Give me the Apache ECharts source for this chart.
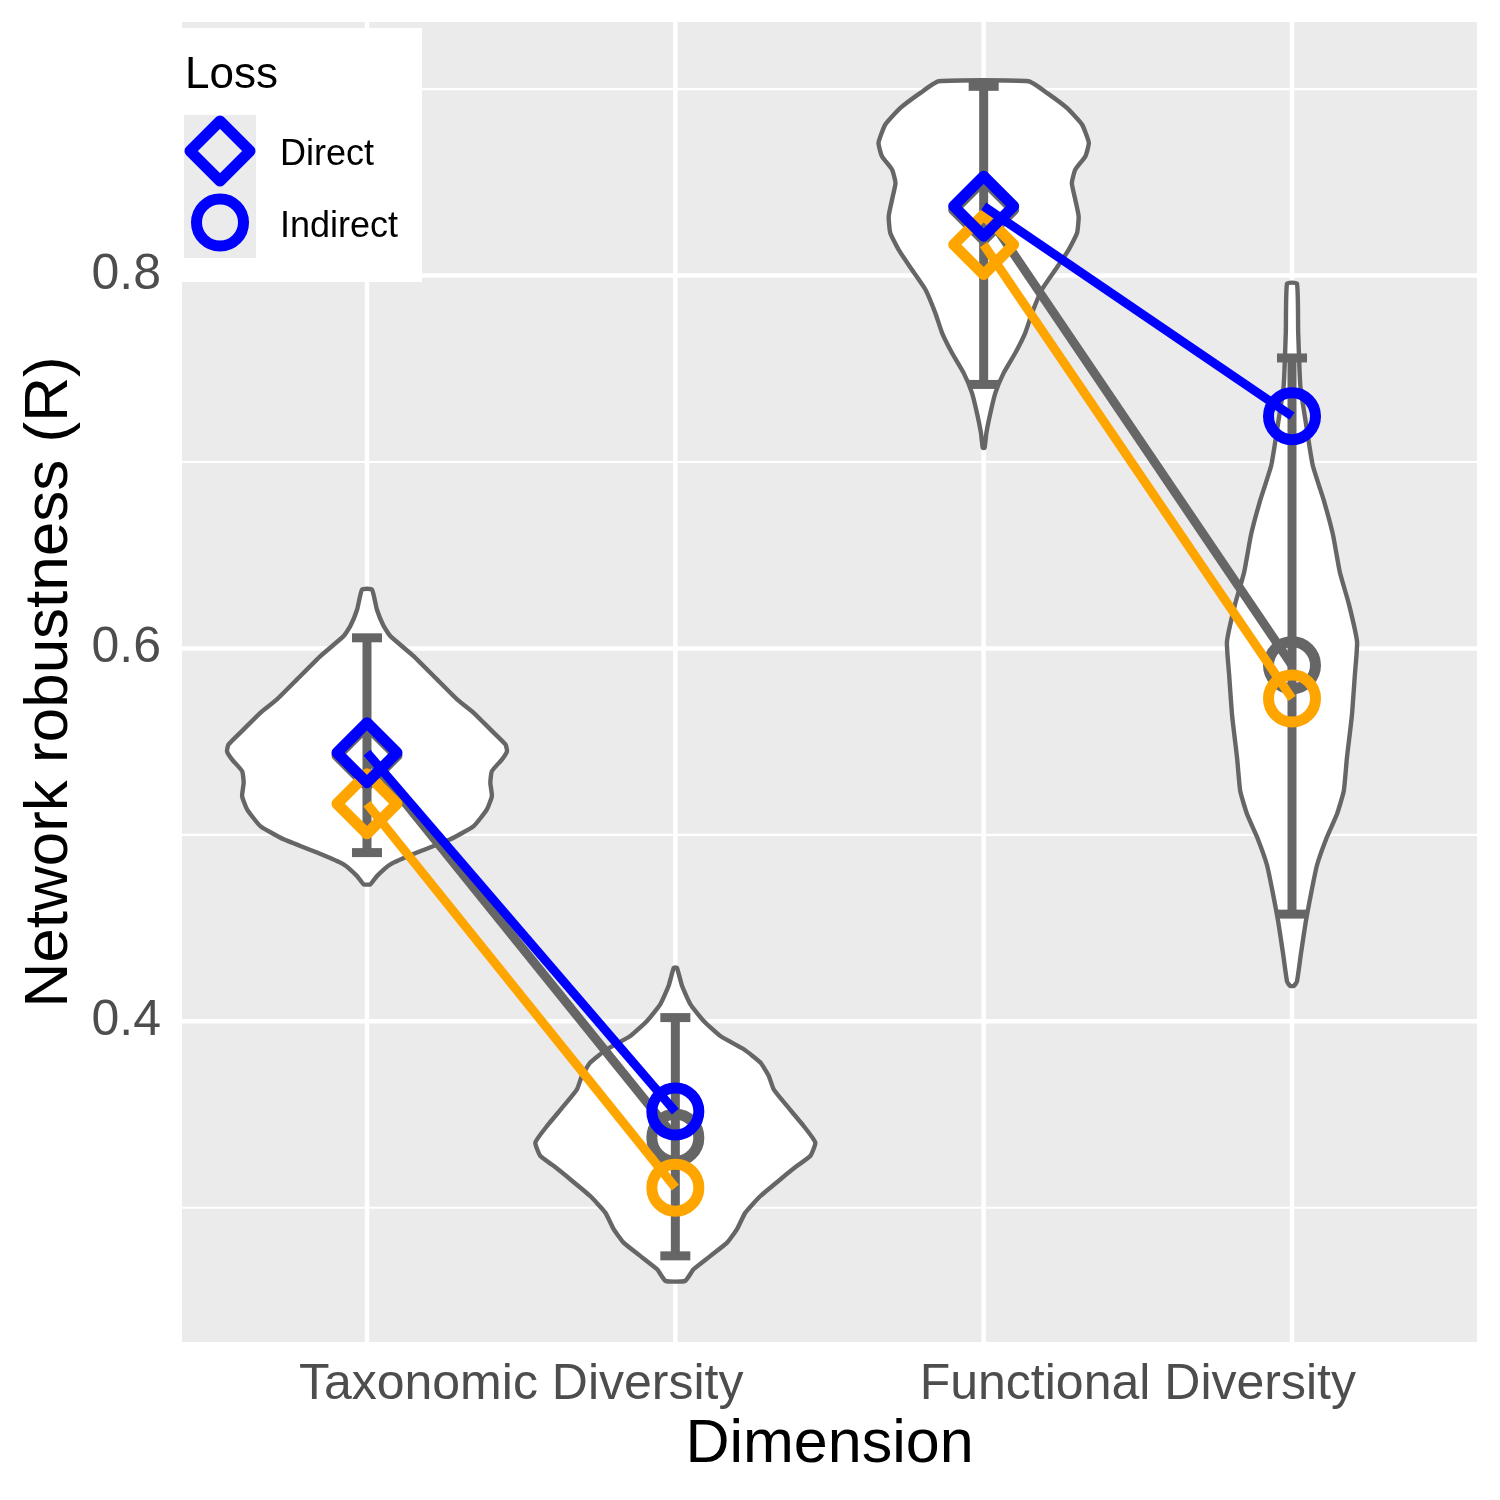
<!DOCTYPE html>
<html>
<head>
<meta charset="utf-8">
<title>Network robustness</title>
<script src="https://cdn.jsdelivr.net/npm/echarts@6.0.0/dist/echarts.min.js"></script>
<style>
  html, body { margin: 0; padding: 0; background: #fff; }
  #chart { width: 1500px; height: 1500px; }
</style>
</head>
<body>
<div id="chart"></div>
<script>
// x positions: 1 = Taxonomic/Direct, 2 = Taxonomic/Indirect, 3 = Functional/Direct, 4 = Functional/Indirect
var dimensionLabels = ['Taxonomic Diversity', 'Functional Diversity'];
var dimensionLabelPos = [1.5, 3.5];
var groupPos = [1, 2, 3, 4];
var groupLoss = ['Direct', 'Indirect', 'Direct', 'Indirect'];
var yBreaks = [0.4, 0.6, 0.8];
var yMinorBreaks = [0.3, 0.5, 0.7, 0.9];
var xBreaks = [1, 2, 3, 4];

// means per group
var grayMean = [0.5426, 0.3376, 0.8354, 0.5910];
var orangeMean = [0.5167, 0.3108, 0.8166, 0.5731];
var blueMean = [0.5441, 0.3516, 0.8372, 0.7246];

// gray error bars
var errLow = [0.4905, 0.2742, 0.7416, 0.4575];
var errHigh = [0.6057, 0.4020, 0.9015, 0.7558];

// violin outlines: [robustness, half width in x units], top to bottom
var violinTaxDirect = [
  [0.6316, 0.016], [0.6209, 0.032], [0.6120, 0.054], [0.6066, 0.076], [0.5959, 0.151],
  [0.5834, 0.227], [0.5727, 0.292], [0.5655, 0.346], [0.5566, 0.400], [0.5485, 0.449],
  [0.5449, 0.454], [0.5405, 0.438], [0.5342, 0.405], [0.5280, 0.400], [0.5208, 0.405],
  [0.5137, 0.389], [0.5047, 0.346], [0.4976, 0.270], [0.4905, 0.162], [0.4842, 0.076],
  [0.4779, 0.032], [0.4735, 0.011]
];
var violinTaxIndirect = [
  [0.4288, 0.005], [0.4189, 0.022], [0.4091, 0.049], [0.4002, 0.092], [0.3921, 0.146],
  [0.3850, 0.222], [0.3779, 0.276], [0.3707, 0.303], [0.3635, 0.319], [0.3546, 0.362],
  [0.3439, 0.416], [0.3350, 0.454], [0.3278, 0.438], [0.3225, 0.395], [0.3153, 0.341],
  [0.3063, 0.276], [0.2974, 0.227], [0.2885, 0.200], [0.2813, 0.168], [0.2742, 0.114],
  [0.2670, 0.059], [0.2608, 0.032]
];
var violinFuncDirect = [
  [0.9042, 0.146], [0.8980, 0.205], [0.8899, 0.270], [0.8810, 0.319], [0.8712, 0.341],
  [0.8640, 0.330], [0.8568, 0.297], [0.8497, 0.286], [0.8408, 0.297], [0.8318, 0.308],
  [0.8229, 0.303], [0.8139, 0.276], [0.8032, 0.233], [0.7925, 0.189], [0.7800, 0.157],
  [0.7693, 0.135], [0.7586, 0.103], [0.7478, 0.065], [0.7371, 0.038], [0.7264, 0.022],
  [0.7157, 0.009], [0.7076, 0.003]
];
var violinFuncIndirect = [
  [0.7957, 0.016], [0.7700, 0.020], [0.7408, 0.027], [0.7209, 0.045], [0.6984, 0.067],
  [0.6784, 0.105], [0.6609, 0.133], [0.6410, 0.155], [0.6235, 0.185], [0.6035, 0.211],
  [0.5861, 0.204], [0.5636, 0.194], [0.5411, 0.178], [0.5236, 0.168], [0.5112, 0.146],
  [0.4987, 0.113], [0.4837, 0.081], [0.4687, 0.062], [0.4537, 0.045], [0.4363, 0.029],
  [0.4213, 0.016], [0.4190, 0.006]
];
var violins = [violinTaxDirect, violinTaxIndirect, violinFuncDirect, violinFuncIndirect];

var FONT = 'Liberation Sans';
var DARK = '#666666';

var chart = echarts.init(document.getElementById('chart'), null, { renderer: 'canvas' });

function lossSymbol(i) {
  return groupLoss[i] === 'Direct' ? 'diamond' : 'circle';
}
function lossSize(i) {
  return groupLoss[i] === 'Direct' ? 60 : 47;
}

// one line series per dimension for a colour
function meanSeries(values, color, z) {
  var out = [];
  [[0, 1], [2, 3]].forEach(function (pair) {
    out.push({
      type: 'line',
      z: z,
      silent: true,
      clip: false,
      showSymbol: true,
      showAllSymbol: true,
      data: pair.map(function (i) {
        return { value: [groupPos[i], values[i]], symbol: lossSymbol(i), symbolSize: lossSize(i) };
      }),
      lineStyle: { color: color, width: 9, cap: 'butt' },
      itemStyle: { color: 'rgba(0,0,0,0)', borderColor: color, borderWidth: 11, borderJoin: 'round' },
      emphasis: { disabled: true }
    });
  });
  return out;
}

var gridData = []
  .concat(yMinorBreaks.map(function (v) { return [0, v]; }))
  .concat(yBreaks.map(function (v) { return [1, v]; }))
  .concat(xBreaks.map(function (v) { return [2, v]; }));

var series = [
  {
    // panel grid lines
    type: 'custom',
    z: 1,
    silent: true,
    data: gridData,
    renderItem: function (params, api) {
      var cs = params.coordSys;
      var kind = api.value(0), v = api.value(1);
      if (kind < 2) {
        var y = api.coord([1, v])[1];
        return { type: 'line', shape: { x1: cs.x, y1: y, x2: cs.x + cs.width, y2: y },
          style: { stroke: '#ffffff', lineWidth: kind === 0 ? 2.2 : 4.4 } };
      }
      var x = api.coord([v, 0.5])[0];
      return { type: 'line', shape: { x1: x, y1: cs.y, x2: x, y2: cs.y + cs.height },
        style: { stroke: '#ffffff', lineWidth: 4.4 } };
    }
  },
  {
    // violins
    type: 'custom',
    z: 2,
    silent: true,
    data: groupPos.map(function (p, i) { return [p, i]; }),
    renderItem: function (params, api) {
      var x = api.value(0);
      var prof = violins[api.value(1)];
      var pts = [];
      prof.forEach(function (d) { pts.push(api.coord([x + d[1], d[0]])); });
      for (var k = prof.length - 1; k >= 0; k--) {
        pts.push(api.coord([x - prof[k][1], prof[k][0]]));
      }
      return { type: 'polygon', shape: { points: pts, smooth: 0.15 },
        style: { fill: '#ffffff', stroke: DARK, lineWidth: 4.4, lineJoin: 'round' } };
    }
  },
  {
    // error bars
    type: 'custom',
    z: 3,
    silent: true,
    data: groupPos.map(function (p, i) { return [p, errLow[i], errHigh[i]]; }),
    renderItem: function (params, api) {
      var top = api.coord([api.value(0), api.value(2)]);
      var bot = api.coord([api.value(0), api.value(1)]);
      var st = { stroke: DARK, lineWidth: 9 };
      return { type: 'group', children: [
        { type: 'line', shape: { x1: top[0], y1: top[1], x2: bot[0], y2: bot[1] }, style: st },
        { type: 'line', shape: { x1: top[0] - 15, y1: top[1], x2: top[0] + 15, y2: top[1] }, style: st },
        { type: 'line', shape: { x1: bot[0] - 15, y1: bot[1], x2: bot[0] + 15, y2: bot[1] }, style: st }
      ] };
    }
  }
]
  .concat(meanSeries(grayMean, DARK, 4))
  .concat(meanSeries(orangeMean, '#FFA500', 5))
  .concat(meanSeries(blueMean, '#0000FF', 6));

var option = {
  backgroundColor: '#ffffff',
  animation: false,
  textStyle: { fontFamily: FONT },
  grid: {
    left: 182, right: 23, top: 22, bottom: 158,
    show: true, backgroundColor: '#EBEBEB', borderWidth: 0
  },
  xAxis: {
    type: 'value',
    min: 0.4,
    max: 4.6,
    axisLine: { show: false },
    axisTick: { show: false },
    splitLine: { show: false },
    axisLabel: {
      customValues: dimensionLabelPos,
      formatter: function (v) {
        var i = dimensionLabelPos.indexOf(v);
        return i >= 0 ? dimensionLabels[i] : '';
      },
      fontFamily: FONT, fontSize: 50, color: '#4D4D4D', margin: 18
    },
    name: 'Dimension',
    nameLocation: 'middle',
    nameGap: 73,
    nameTextStyle: { fontFamily: FONT, fontSize: 61, color: '#000000' }
  },
  yAxis: {
    type: 'value',
    min: 0.228,
    max: 0.936,
    axisLine: { show: false },
    axisTick: { show: false },
    splitLine: { show: false },
    axisLabel: {
      customValues: yBreaks,
      formatter: function (v) { return v.toFixed(1); },
      fontFamily: FONT, fontSize: 50, color: '#4D4D4D', margin: 21
    },
    name: 'Network robustness (R)',
    nameLocation: 'middle',
    nameGap: 101,
    nameTextStyle: { fontFamily: FONT, fontSize: 62, color: '#000000' }
  },
  graphic: [
    { type: 'rect', z: 100, silent: true, shape: { x: 182, y: 28, width: 240, height: 254 }, style: { fill: '#ffffff' } },
    { type: 'rect', z: 101, silent: true, shape: { x: 184, y: 115, width: 72, height: 143 }, style: { fill: '#EBEBEB' } },
    { type: 'text', z: 102, silent: true, x: 185, y: 76,
      style: { text: 'Loss', font: '44px "Liberation Sans"', fill: '#000000', verticalAlign: 'middle' } },
    { type: 'polygon', z: 102, silent: true,
      shape: { points: [[220, 121], [250, 151], [220, 181], [190, 151]] },
      style: { fill: 'none', stroke: '#0000FF', lineWidth: 11, lineJoin: 'round' } },
    { type: 'circle', z: 102, silent: true, shape: { cx: 220, cy: 222.5, r: 23.5 },
      style: { fill: 'none', stroke: '#0000FF', lineWidth: 11 } },
    { type: 'text', z: 102, silent: true, x: 280, y: 155,
      style: { text: 'Direct', font: '36px "Liberation Sans"', fill: '#000000', verticalAlign: 'middle' } },
    { type: 'text', z: 102, silent: true, x: 280, y: 227,
      style: { text: 'Indirect', font: '36px "Liberation Sans"', fill: '#000000', verticalAlign: 'middle' } }
  ],
  series: series
};

chart.setOption(option);
</script>
</body>
</html>
